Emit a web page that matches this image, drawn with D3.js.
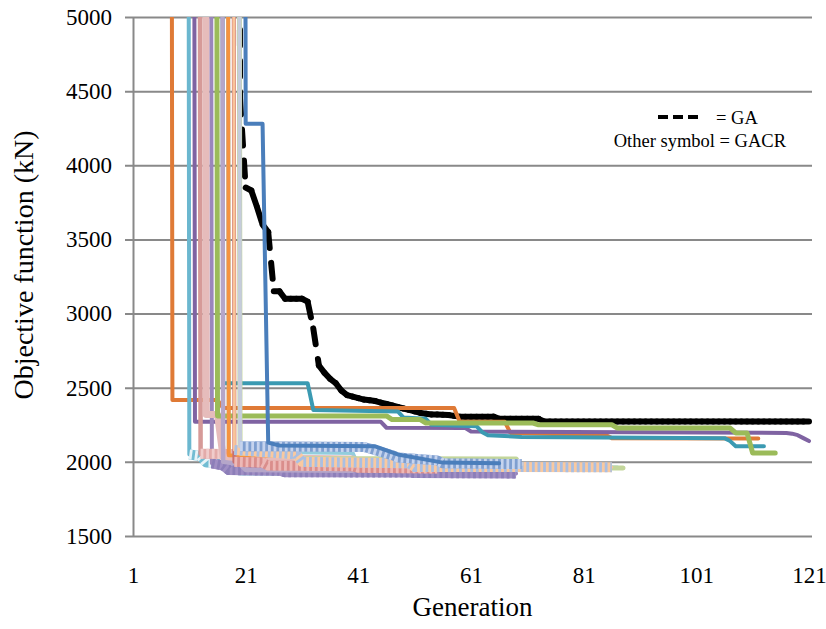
<!DOCTYPE html>
<html>
<head>
<meta charset="utf-8">
<script src="https://cdn.jsdelivr.net/npm/d3@7"></script>
<style>
  body { margin: 0; background: #fff; }
</style>
</head>
<body>
<div id="chart"></div>
<script>
const width = 826, height = 629;
const margin = { top: 17, right: 14, bottom: 93, left: 133 };
const plotW = width - margin.left - margin.right;
const plotH = height - margin.top - margin.bottom;
const serif = '"Liberation Serif", "Times New Roman", serif';

const xTicks = [1, 21, 41, 61, 81, 101, 121];
const yTicks = [1500, 2000, 2500, 3000, 3500, 4000, 4500, 5000];

// GA run, one value per generation starting at gaStart
const gaStart = 19;
const gaValues = [30000, 4450, 3850, 3830, 3720, 3600, 3550, 3150, 3150, 3100,
  3100, 3100, 3100, 3080, 2900, 2650, 2600, 2560, 2530, 2480,
  2450, 2440, 2430, 2420, 2415, 2410, 2400, 2390, 2380, 2370,
  2360, 2350, 2340, 2330, 2325, 2320, 2320, 2318, 2316, 2310,
  2305, 2305, 2305, 2305, 2305, 2305, 2305,
  2290, 2290, 2290, 2290, 2290, 2290, 2290, 2290,
  2272, 2272, 2272, 2272, 2272, 2272, 2272, 2272, 2272, 2272,
  2272, 2272, 2272, 2272, 2272, 2272, 2272, 2272, 2272, 2272,
  2272, 2272, 2272, 2272, 2272, 2272, 2272, 2272, 2272, 2272,
  2272, 2272, 2272, 2272, 2272, 2272, 2272, 2272, 2272, 2272,
  2272, 2272, 2272, 2272, 2272, 2272, 2272, 2272];

// GACR runs: [generation, objective] at each change of the best value
const gacrOrange = [[7, 30000], [8, 2417], [16, 2417], [17, 2363], [58, 2363], [59, 2270], [67, 2270], [68, 2195], [85, 2180], [86, 2160], [112, 2158]];
const gacrAqua = [[10, 30000], [11, 2050], [13, 2040], [14, 1995], [19, 1990], [20, 1942], [41, 1936]];
const gacrPurple = [[11, 30000], [12, 2270], [45, 2270], [46, 2230], [60, 2228], [61, 2205], [117, 2195], [118, 2190], [119, 2180], [120, 2160], [121, 2140]];
const gacrPink = [[12, 30000], [13, 2055], [25, 2050], [26, 2010], [38, 2005], [39, 1990], [60, 1985]];
const gacrLightPink = [[13, 30000], [14, 2320], [16, 2320], [17, 2030], [40, 2020], [41, 2000], [55, 1995]];
const gacrLavender = [[14, 30000], [15, 1990], [17, 1975], [18, 1945], [27, 1940], [28, 1930], [50, 1928], [51, 1925], [69, 1922]];
const gacrGreen = [[15, 30000], [16, 2310], [46, 2310], [47, 2285], [52, 2285], [53, 2262], [72, 2262], [73, 2250], [86, 2250], [87, 2228], [107, 2228], [108, 2195], [110, 2195], [111, 2060], [115, 2060]];
const gacrLightLavender = [[16, 30000], [17, 2000], [20, 1985], [21, 1945], [40, 1940]];
const gacrTeal = [[16, 30000], [17, 2530], [32, 2530], [33, 2350], [48, 2340], [49, 2300], [53, 2290], [54, 2250], [62, 2240], [63, 2200], [64, 2180], [70, 2168], [106, 2160], [107, 2140], [108, 2105], [113, 2105]];
const gacrOrangeLight = [[17, 30000], [18, 2045], [30, 2040], [31, 1990], [45, 1985], [46, 1970], [60, 1968]];
const gacrRose = [[18, 30000], [19, 2000], [24, 1995], [25, 1975], [40, 1970], [41, 1960], [55, 1955]];
const gacrLightGreen = [[19, 30000], [20, 2060], [30, 2050], [31, 2022], [69, 2020], [70, 1960], [88, 1958]];
const gacrSteel = [[19, 30000], [20, 2105], [42, 2100], [43, 2090], [47, 2045], [48, 2030], [55, 2010], [56, 1990], [70, 1985]];
const gacrBlue = [[20, 30000], [21, 4280], [24, 4280], [25, 2130], [27, 2110], [44, 2105], [48, 2050], [56, 1995], [66, 1990]];
const gacrPeach = [[18, 30000], [19, 2080], [30, 2050], [31, 2000], [50, 1990], [51, 1966], [86, 1964]];
const gacrSky = [[17, 30000], [18, 2070], [40, 2060], [41, 1970], [87, 1962]];

const gacrSeries = [
  { data: gacrSky, color: "#93CDDD", width: 4 },
  { data: gacrOrange, color: "#DF7A36", width: 4 },
  { data: gacrAqua, color: "#6BB7CF", width: 4, band: "#72BDD3", dot: "#E8F4F8" },
  { data: gacrPurple, color: "#7F63A2", width: 4 },
  { data: gacrLavender, color: "#9A86BC", width: 4, band: "#A08FC4", dot: "#8C7EB8" },
  { data: gacrPink, color: "#D69A98", width: 4.5, band: "#E3ABA9", dot: "#F0CCCB" },
  { data: gacrLightPink, color: "#E6BCBB", width: 7 },
  { data: gacrTeal, color: "#3B9AB2", width: 4 },
  { data: gacrGreen, color: "#9BBB59", width: 5 },
  { data: gacrLightLavender, color: "#B5A6C9", width: 4.5 },
  { data: gacrOrangeLight, color: "#F5933F", width: 4 },
  { data: gacrRose, color: "#C9706E", width: 4, band: "#DA8E8C", dot: "#EDB9B7" },
  { data: gacrLightGreen, color: "#C3D69B", width: 5 },
  { data: gacrPeach, color: "#F9C49A", width: 3, band: "#F9C9A0", dot: "#A9BFE3" },
  { data: gacrSteel, color: "#C5CCDB", width: 4, band: "#7F9FD0", dot: "#C6D4EE" },
  { data: gacrBlue, color: "#4A7EBB", width: 4 }
];

const svg = d3.select("#chart").append("svg").attr("width", width).attr("height", height)
  .style("font-family", serif);

const x = d3.scaleLinear().domain([1, 121]).range([margin.left, margin.left + plotW - 3]);
const y = d3.scaleLinear().domain([1500, 5000]).range([margin.top + plotH, margin.top]);

svg.append("defs").append("clipPath").attr("id", "plot-clip")
  .append("rect").attr("x", margin.left).attr("y", margin.top).attr("width", plotW).attr("height", plotH);

// gridlines + y axis
const yAxis = svg.append("g").attr("transform", `translate(${margin.left},0)`)
  .call(d3.axisLeft(y).tickValues(yTicks).tickFormat(d3.format("d"))
    .tickSize(-plotW).tickSizeOuter(0).tickPadding(21));
yAxis.select(".domain").attr("stroke", "#898989").attr("stroke-width", 2);
yAxis.selectAll(".tick line").attr("x1", -8).attr("stroke", "#898989").attr("stroke-width", 2);
yAxis.selectAll(".tick text").style("font-family", serif).style("font-size", "23px").attr("fill", "#000");

// x axis labels
const xAxis = svg.append("g").attr("transform", `translate(0,${margin.top + plotH})`)
  .call(d3.axisBottom(x).tickValues(xTicks).tickFormat(d3.format("d")).tickSize(0).tickPadding(31));
xAxis.select(".domain").remove();
xAxis.selectAll(".tick text").style("font-family", serif).style("font-size", "23px").attr("fill", "#000");

const plot = svg.append("g").attr("clip-path", "url(#plot-clip)");
const line = d3.line().x(d => x(d[0])).y(d => y(d[1]));

// GA, dashes restart on every segment
const gaPoints = gaValues.map((v, i) => [gaStart + i, v]);
plot.append("g").selectAll("line")
  .data(d3.pairs(gaPoints))
  .join("line")
  .attr("x1", d => x(d[0][0])).attr("y1", d => y(d[0][1]))
  .attr("x2", d => x(d[1][0])).attr("y2", d => y(d[1][1]))
  .attr("stroke", "#000")
  .attr("stroke-width", 6)
  .attr("stroke-linecap", "round")
  .attr("stroke-dasharray", "16,15");

gacrSeries.forEach(s => {
  plot.append("path").attr("d", line(s.data))
    .attr("fill", "none").attr("stroke", s.color).attr("stroke-width", s.width)
    .attr("stroke-linejoin", "round").attr("stroke-linecap", "round");
  if (s.band) {
    const pts = s.data.filter(d => d[1] <= 5000);
    plot.append("path").attr("d", line(pts))
      .attr("fill", "none").attr("stroke", s.band).attr("stroke-width", 10)
      .attr("stroke-linejoin", "round");
    plot.append("path").attr("d", line(pts))
      .attr("fill", "none").attr("stroke", s.dot).attr("stroke-width", 10)
      .attr("stroke-dasharray", "2.8,2.8");
  }
});

// axis titles
svg.append("text")
  .attr("x", margin.left + plotW / 2).attr("y", 616)
  .attr("text-anchor", "middle").style("font-family", serif).style("font-size", "27px")
  .text("Generation");

svg.append("text")
  .attr("transform", `translate(33,265) rotate(-90)`)
  .attr("text-anchor", "middle").style("font-family", serif).style("font-size", "28px")
  .text("Objective function (kN)");

// legend
svg.append("line")
  .attr("x1", 658).attr("x2", 700).attr("y1", 117).attr("y2", 117)
  .attr("stroke", "#000").attr("stroke-width", 4).attr("stroke-dasharray", "10,5");
svg.append("text").attr("x", 716).attr("y", 124)
  .style("font-family", serif).style("font-size", "18.5px").text("= GA");
svg.append("text").attr("x", 786).attr("y", 147).attr("text-anchor", "end")
  .style("font-family", serif).style("font-size", "18.5px").text("Other symbol = GACR");
</script>
</body>
</html>
